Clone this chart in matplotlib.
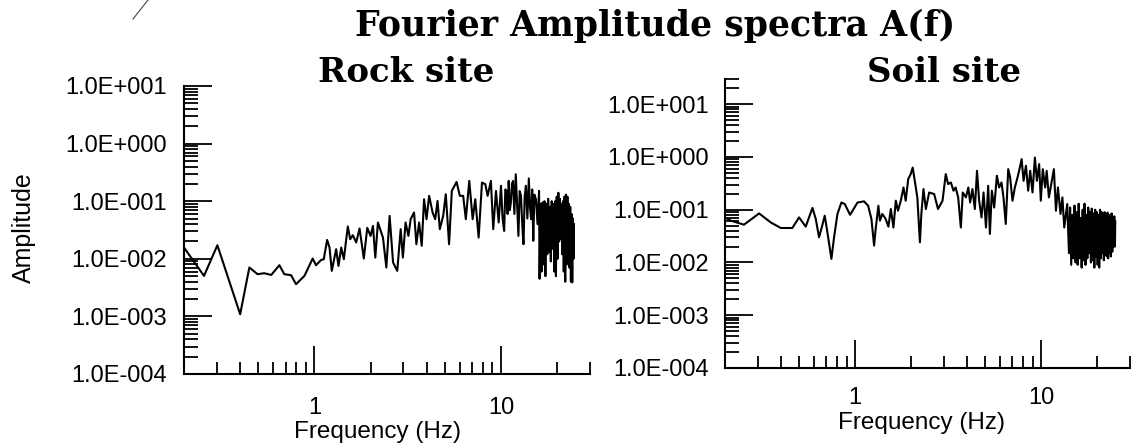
import numpy as np
import matplotlib
matplotlib.use('Agg')
import matplotlib.pyplot as plt
from matplotlib.ticker import LogLocator, NullFormatter
from matplotlib.lines import Line2D

# ---- data ----
# Rock site spectrum (Hz, amplitude), low frequencies
rock_freq = [0.20, 0.256, 0.302, 0.40, 0.448, 0.496, 0.538, 0.587, 0.649, 0.690,
             0.750, 0.797, 0.884, 0.979, 1.02, 1.087, 1.122, 1.17, 1.205, 1.239,
             1.308, 1.346, 1.392, 1.438, 1.51, 1.556, 1.607, 1.675, 1.746, 1.84,
             1.92, 2.0, 2.06, 2.12, 2.19, 2.33, 2.43, 2.53, 2.64, 2.78,
             2.90, 2.98, 3.08, 3.19, 3.28, 3.42, 3.52, 3.64, 3.76, 3.87,
             3.99, 4.12, 4.30, 4.44, 4.57, 4.70, 4.90, 5.06, 5.27, 5.45,
             5.78, 6.02, 6.27, 6.48, 6.76, 7.05, 7.28, 7.59, 7.91, 8.24,
             8.48, 8.83, 9.09, 9.40, 9.72]
rock_amp = [0.0157, 0.00505, 0.0172, 0.00109, 0.00706, 0.0054, 0.00562, 0.00525, 0.00774, 0.0054,
            0.00519, 0.00362, 0.00505, 0.0101, 0.00774, 0.00957, 0.0098, 0.0213, 0.0157, 0.00617,
            0.0147, 0.00753, 0.0157, 0.00984, 0.0364, 0.0219, 0.0257, 0.0192, 0.0336, 0.0101,
            0.0344, 0.025, 0.0372, 0.0105, 0.0427, 0.0234, 0.00706, 0.0556, 0.00863, 0.00617,
            0.0327, 0.0105, 0.0427, 0.025, 0.0487, 0.0637, 0.0179, 0.0427, 0.0168, 0.108,
            0.0487, 0.124, 0.0637, 0.0487, 0.101, 0.0327, 0.0556, 0.132, 0.0179, 0.151,
            0.216, 0.124, 0.124, 0.0487, 0.225, 0.0487, 0.108, 0.0234, 0.211, 0.197,
            0.124, 0.225, 0.0327, 0.151, 0.0427]
# 10-16 Hz
rock_mid_freq = [10.0, 10.2, 10.4, 10.55, 10.7, 10.85, 11.0, 11.15, 11.3, 11.45,
                 11.6, 11.8, 12.0, 12.2, 12.4, 12.6, 12.8, 13.0, 13.2, 13.4,
                 13.6, 13.85, 14.1, 14.3, 14.5, 14.7, 14.9, 15.1, 15.4, 15.7, 16.0]
rock_mid_amp = [0.185, 0.05, 0.0305, 0.16, 0.151, 0.06, 0.225, 0.07, 0.095, 0.2,
                0.225, 0.06, 0.294, 0.09, 0.025, 0.15, 0.124, 0.04, 0.0179, 0.12,
                0.185, 0.05, 0.248, 0.08, 0.0487, 0.16, 0.0205, 0.13, 0.108, 0.04, 0.151]
# dense high-frequency part of the rock spectrum
rock_hf_freq = [16.1, 16.3, 16.5, 16.7, 16.9, 17.1, 17.3, 17.5, 17.7, 17.9,
                18.1, 18.3, 18.5, 18.7, 18.9, 19.1, 19.3, 19.5, 19.7, 19.9,
                20.1, 20.3, 20.5, 20.7, 20.9, 21.1, 21.3, 21.5, 21.7, 21.9,
                22.1, 22.3, 22.5, 22.7, 22.9, 23.1, 23.3, 23.5, 23.7, 23.9,
                24.1, 24.3, 24.5, 24.6]
rock_hf_amp = [0.0045, 0.09, 0.006, 0.095, 0.008, 0.1, 0.005, 0.09, 0.012, 0.11,
               0.013, 0.08, 0.009, 0.1, 0.015, 0.09, 0.006, 0.1, 0.005, 0.12,
               0.01, 0.14, 0.02, 0.11, 0.022, 0.09, 0.012, 0.1, 0.006, 0.12,
               0.004, 0.13, 0.008, 0.12, 0.012, 0.09, 0.007, 0.08, 0.004, 0.06,
               0.0039, 0.05, 0.01, 0.04]

# Soil site spectrum (Hz, amplitude)
soil_freq = [0.2, 0.215, 0.253, 0.305, 0.352, 0.399, 0.46, 0.50, 0.543, 0.59,
             0.615, 0.64, 0.662, 0.687, 0.71, 0.734, 0.746, 0.771, 0.804, 0.844,
             0.88, 0.94, 1.03, 1.117, 1.175, 1.224, 1.265, 1.29, 1.334, 1.36,
             1.40, 1.46, 1.51, 1.556, 1.607, 1.655, 1.70, 1.76, 1.82, 1.87,
             1.93, 1.99, 2.04, 2.10, 2.16, 2.23, 2.27, 2.33, 2.40, 2.50,
             2.66, 2.79, 2.95, 3.07, 3.16, 3.27, 3.38, 3.47, 3.58, 3.70,
             3.79, 3.94, 4.06, 4.15, 4.27, 4.40, 4.52, 4.64, 4.78, 4.90,
             5.05, 5.19, 5.30, 5.43, 5.59, 5.78, 5.94, 6.12, 6.27, 6.45,
             6.65, 6.81, 7.01, 7.22, 7.46, 7.68, 7.85, 8.04, 8.28, 8.51,
             8.73, 8.98, 9.25, 9.48, 9.75, 9.95, 10.2, 10.5, 10.7, 11.0,
             11.4, 11.7, 12.0, 12.3, 12.7, 13.0, 13.3, 13.8]
soil_amp = [0.0715, 0.062, 0.052, 0.085, 0.0575, 0.045, 0.045, 0.0715, 0.0478, 0.108,
            0.0667, 0.030, 0.046, 0.077, 0.0372, 0.0168, 0.0117, 0.030, 0.083, 0.137,
            0.128, 0.080, 0.137, 0.144, 0.119, 0.0667, 0.0209, 0.0431, 0.119, 0.062,
            0.083, 0.0667, 0.0478, 0.103, 0.046, 0.148, 0.0957, 0.148, 0.264, 0.148,
            0.38, 0.473, 0.63, 0.328, 0.171, 0.0241, 0.083, 0.246, 0.103, 0.212,
            0.198, 0.103, 0.148, 0.473, 0.306, 0.328, 0.229, 0.264, 0.171, 0.046,
            0.212, 0.171, 0.264, 0.137, 0.246, 0.103, 0.546, 0.148, 0.0715, 0.212,
            0.046, 0.284, 0.0348, 0.229, 0.110, 0.44, 0.264, 0.328, 0.171, 0.0537,
            0.587, 0.408, 0.148, 0.264, 0.408, 0.63, 0.908, 0.353, 0.68, 0.229,
            0.546, 0.212, 0.975, 0.353, 0.731, 0.148, 0.587, 0.264, 0.546, 0.171,
            0.353, 0.587, 0.0957, 0.264, 0.083, 0.171, 0.046, 0.128]
# dense high-frequency part of the soil spectrum
soil_hf_freq = [14.1, 14.3, 14.5, 14.7, 14.9, 15.1, 15.3, 15.5, 15.7, 15.9,
                16.1, 16.3, 16.5, 16.7, 16.9, 17.1, 17.3, 17.5, 17.7, 17.9,
                18.1, 18.3, 18.5, 18.7, 18.9, 19.1, 19.3, 19.5, 19.7, 19.9,
                20.1, 20.3, 20.5, 20.7, 20.9, 21.1, 21.3, 21.5, 21.7, 21.9,
                22.1, 22.3, 22.5, 22.7, 22.9, 23.1, 23.3, 23.5, 23.7, 23.9,
                24.1, 24.3, 24.5, 24.7, 24.9, 25.0]
soil_hf_amp = [0.015, 0.11, 0.009, 0.08, 0.012, 0.12, 0.01, 0.09, 0.009, 0.13,
               0.012, 0.07, 0.008, 0.1, 0.011, 0.13, 0.009, 0.08, 0.012, 0.11,
               0.015, 0.09, 0.01, 0.105, 0.011, 0.085, 0.008, 0.1, 0.013, 0.09,
               0.009, 0.08, 0.008, 0.1, 0.012, 0.09, 0.015, 0.085, 0.011, 0.09,
               0.014, 0.08, 0.013, 0.088, 0.012, 0.08, 0.015, 0.075, 0.013, 0.085,
               0.016, 0.07, 0.02, 0.075, 0.02, 0.06]

# tick values and labels
xtick_vals = [1, 10]
xtick_labels = ["1", "10"]
ytick_vals = [1e-4, 1e-3, 1e-2, 1e-1, 1e0, 1e1]
ytick_labels = ["1.0E-004", "1.0E-003", "1.0E-002", "1.0E-001", "1.0E+000", "1.0E+001"]

plt.rcParams['font.family'] = ['Liberation Sans', 'DejaVu Sans']

W, H = 1131, 446
fig = plt.figure(figsize=(W/100, H/100), dpi=100)

# axes placed in pixel units of the reference
def px_axes(x0, y0, x1, y1):
    return fig.add_axes([x0/W, 1 - y1/H, (x1 - x0)/W, (y1 - y0)/H])

ax1 = px_axes(184, 86, 590, 374)
ax2 = px_axes(725, 79, 1130, 368)


def style(ax, ylim, ypad, xpad):
    ax.set_xscale('log')
    ax.set_yscale('log')
    ax.set_xticks(xtick_vals)
    ax.set_xticklabels(xtick_labels)
    ax.set_yticks(ytick_vals)
    ax.set_yticklabels(ytick_labels)
    ax.xaxis.set_minor_locator(LogLocator(base=10, subs=np.arange(2, 10), numticks=50))
    ax.yaxis.set_minor_locator(LogLocator(base=10, subs=np.arange(2, 10), numticks=50))
    ax.xaxis.set_minor_formatter(NullFormatter())
    ax.yaxis.set_minor_formatter(NullFormatter())
    ax.set_xlim(0.2, 30)
    ax.set_ylim(*ylim)
    for s in ['top', 'right']:
        ax.spines[s].set_visible(False)
    for s in ['left', 'bottom']:
        ax.spines[s].set_linewidth(1.5)
    ax.tick_params(which='both', direction='in', width=1.3, colors='black')
    ax.tick_params(which='major', length=20)
    ax.tick_params(axis='y', which='minor', length=10)
    ax.tick_params(axis='x', which='minor', length=8.5)
    ax.tick_params(axis='y', which='major', pad=ypad, labelsize=17)
    ax.tick_params(axis='x', which='major', pad=xpad, labelsize=17)
    ax.set_facecolor('none')


# Rock site
ax1.plot(rock_freq + rock_mid_freq + rock_hf_freq,
         rock_amp + rock_mid_amp + rock_hf_amp, color='black', lw=1.5)
style(ax1, (1e-4, 1e1), 12, 16.5)
ax1.set_xlabel("Frequency (Hz)", fontsize=17.5)
ax1.xaxis.set_label_coords((378 - 184)/406, (374 - 421)/288)
ax1.set_ylabel("Amplitude", fontsize=18)
ax1.yaxis.set_label_coords((36 - 184)/406, (374 - 228)/288)

# Soil site
ax2.plot(soil_freq + soil_hf_freq, soil_amp + soil_hf_amp, color='black', lw=1.5)
style(ax2, (1e-4, 3e1), 11.5, 13.5)
ax2.set_xlabel("Frequency (Hz)", fontsize=17.5)
ax2.xaxis.set_label_coords((921 - 725)/405, (368 - 412)/289)

# titles
serif = dict(family='DejaVu Serif', weight='bold', va='baseline', ha='center')
fig.text(655/W, 1 - 36/H, "Fourier Amplitude spectra A(f)", fontsize=25, **serif)
fig.text(406/W, 1 - 82/H, "Rock site", fontsize=24.5, **serif)
fig.text(944/W, 1 - 82/H, "Soil site", fontsize=24.5, **serif)

# stray stroke in the top-left corner of the original
fig.add_artist(Line2D([133/W, 148/W], [1 - 19/H, 1.0], color='#444444', lw=0.8))

fig.savefig("out.png", dpi=100)
